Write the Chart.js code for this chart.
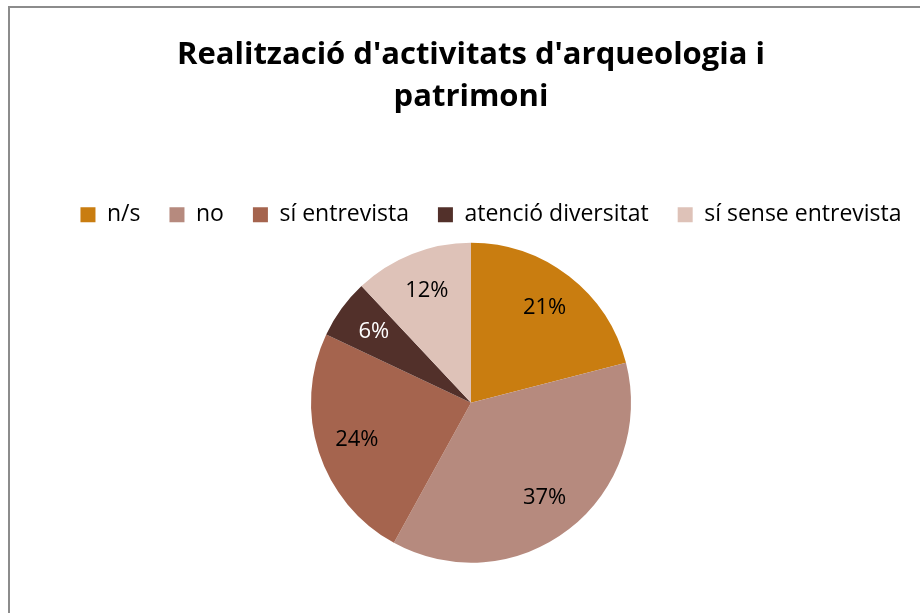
<!DOCTYPE html>
<html lang="ca">
<head>
  <meta charset="UTF-8">
  <title>Realització d'activitats d'arqueologia i patrimoni</title>
  <script src="https://cdn.jsdelivr.net/npm/chart.js"></script>
  <style>
    body {
      margin: 0;
      padding: 0;
      background: #fff;
      overflow: hidden;
    }
    #frame {
      position: absolute;
      left: 8px;
      top: 6px;
      width: 1000px;
      height: 700px;
      border: 2px solid #8c8c8c;
    }
    #chart-container {
      position: absolute;
      left: 0;
      top: 0;
      width: 942px;
      height: 613px;
    }
  </style>
</head>
<body>
  <div id="frame"></div>
  <div id="chart-container">
    <canvas id="pieChart"></canvas>
  </div>

  <script>
    const labels = ['n/s', 'no', 'sí entrevista', 'atenció diversitat', 'sí sense entrevista'];
    const percents = [21, 37, 24, 6, 12];
    const colors = ['#c97d10', '#b68a7e', '#a5644e', '#52302a', '#dec2b8'];
    const labelColors = ['#000', '#000', '#000', '#fff', '#000'];

    const FONT = '"Open Sans", "Liberation Sans", sans-serif';

    // etiquetes de percentatge dins de cada porció
    const sliceLabels = {
      id: 'sliceLabels',
      afterDatasetsDraw(chart) {
        const ctx = chart.ctx;
        const meta = chart.getDatasetMeta(0);
        ctx.save();
        ctx.font = '22px ' + FONT;
        ctx.textAlign = 'center';
        ctx.textBaseline = 'middle';
        meta.data.forEach((arc, i) => {
          const p = arc.getProps(['x', 'y', 'startAngle', 'endAngle', 'outerRadius'], true);
          const mid = (p.startAngle + p.endAngle) / 2;
          const r = p.outerRadius * 0.75;
          ctx.fillStyle = labelColors[i];
          ctx.fillText(percents[i] + '%', p.x + Math.cos(mid) * r, p.y + Math.sin(mid) * r);
        });
        ctx.restore();
      }
    };

    // desplaça la llegenda una mica cap a la dreta
    const legendShift = {
      id: 'legendShift',
      afterLayout(chart) {
        chart.legend.left += 40;
      }
    };

    new Chart(document.getElementById('pieChart'), {
      type: 'pie',
      data: {
        labels: labels,
        datasets: [{
          data: percents,
          backgroundColor: colors,
          borderWidth: 0,
          radius: 160
        }]
      },
      options: {
        responsive: true,
        maintainAspectRatio: false,
        animation: false,
        layout: {
          padding: { left: 0, right: 0, top: 0, bottom: 44 }
        },
        plugins: {
          title: {
            display: true,
            text: ["Realització d'activitats d'arqueologia i", 'patrimoni'],
            color: '#000',
            font: { family: FONT, size: 31, weight: 'bold', lineHeight: 1.36 },
            padding: { top: 34, bottom: 56 }
          },
          legend: {
            display: true,
            position: 'top',
            labels: {
              color: '#000',
              font: { family: FONT, size: 23 },
              boxWidth: 15,
              boxHeight: 15,
              padding: 29
            }
          },
          tooltip: { enabled: false }
        }
      },
      plugins: [sliceLabels, legendShift]
    });
  </script>
</body>
</html>
